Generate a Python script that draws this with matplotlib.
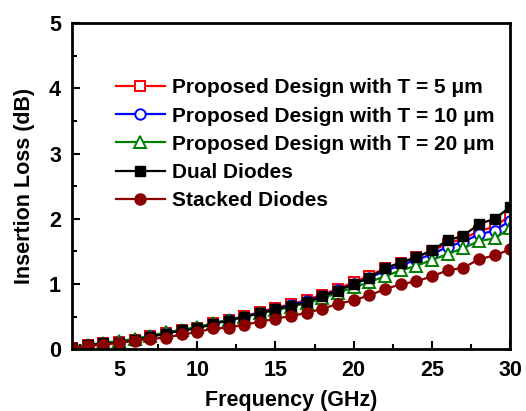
import matplotlib.pyplot as plt
from matplotlib.ticker import MultipleLocator

plt.rcParams['font.family'] = ['Liberation Sans', 'DejaVu Sans']
plt.rcParams['font.weight'] = 'bold'

freq = list(range(2, 31))

t5 = [0.02, 0.06, 0.09, 0.11, 0.15, 0.20, 0.25, 0.30, 0.33, 0.40, 0.45, 0.51, 0.57, 0.64, 0.69,
      0.76, 0.84, 0.93, 1.03, 1.13, 1.24, 1.33, 1.41, 1.51, 1.62, 1.70, 1.81, 1.88, 2.05]
t10 = [0.02, 0.06, 0.09, 0.11, 0.15, 0.20, 0.25, 0.29, 0.33, 0.39, 0.45, 0.50, 0.56, 0.62, 0.68,
       0.74, 0.82, 0.91, 1.00, 1.10, 1.20, 1.29, 1.37, 1.46, 1.57, 1.65, 1.76, 1.82, 1.97]
t20 = [0.03, 0.07, 0.10, 0.13, 0.16, 0.21, 0.26, 0.30, 0.34, 0.40, 0.45, 0.50, 0.55, 0.60, 0.65,
       0.71, 0.78, 0.87, 0.95, 1.03, 1.12, 1.21, 1.28, 1.37, 1.46, 1.55, 1.66, 1.70, 1.86]
dual = [0.02, 0.06, 0.09, 0.10, 0.14, 0.19, 0.24, 0.29, 0.32, 0.39, 0.44, 0.50, 0.55, 0.62, 0.66,
        0.73, 0.81, 0.90, 1.00, 1.10, 1.24, 1.33, 1.41, 1.52, 1.67, 1.74, 1.92, 2.00, 2.18]
stacked = [0.02, 0.05, 0.07, 0.10, 0.13, 0.16, 0.18, 0.23, 0.26, 0.32, 0.33, 0.38, 0.42, 0.47, 0.51,
           0.56, 0.62, 0.70, 0.75, 0.83, 0.92, 1.00, 1.04, 1.12, 1.21, 1.25, 1.38, 1.44, 1.53]

fig, ax = plt.subplots(figsize=(5.26, 4.11), dpi=100)
fig.subplots_adjust(left=0.137, right=0.97, top=0.944, bottom=0.15)

ax.plot(freq, t5, color='red', marker='s', mfc='white', mec='red', ms=7, mew=1.4, lw=1.6,
        label='Proposed Design with T = 5 μm')
ax.plot(freq, t10, color='blue', marker='o', mfc='white', mec='blue', ms=7.5, mew=1.4, lw=1.6,
        label='Proposed Design with T = 10 μm')
ax.plot(freq, t20, color='green', marker='^', mfc='white', mec='green', ms=8.5, mew=1.4, lw=1.6,
        label='Proposed Design with T = 20 μm')
ax.plot(freq, dual, color='black', marker='s', ms=7.5, lw=1.6, label='Dual Diodes')
ax.plot(freq, stacked, color='#8b0000', marker='o', ms=8, lw=1.6, label='Stacked Diodes')

ax.set_xlim(2, 30)
ax.set_ylim(0, 5)
ax.xaxis.set_major_locator(MultipleLocator(5))
ax.xaxis.set_minor_locator(MultipleLocator(2.5))
ax.yaxis.set_major_locator(MultipleLocator(1))
ax.yaxis.set_minor_locator(MultipleLocator(0.5))
ax.tick_params(which='both', direction='in', width=1.5, labelsize=15.5)
ax.tick_params(which='major', length=6, pad=8)
ax.tick_params(which='minor', length=3.5)
for s in ax.spines.values():
    s.set_linewidth(2)

ax.set_xlabel('Frequency (GHz)', fontsize=15.5, fontweight='bold', labelpad=6)
ax.set_ylabel('Insertion Loss (dB)', fontsize=15.5, fontweight='bold', labelpad=10)

ax.legend(loc='upper left', bbox_to_anchor=(0.067, 0.875), frameon=False, fontsize=15,
          handlelength=2.35, handletextpad=0.33, labelspacing=0.44, borderpad=0.2)

plt.savefig('out.png', dpi=100)
